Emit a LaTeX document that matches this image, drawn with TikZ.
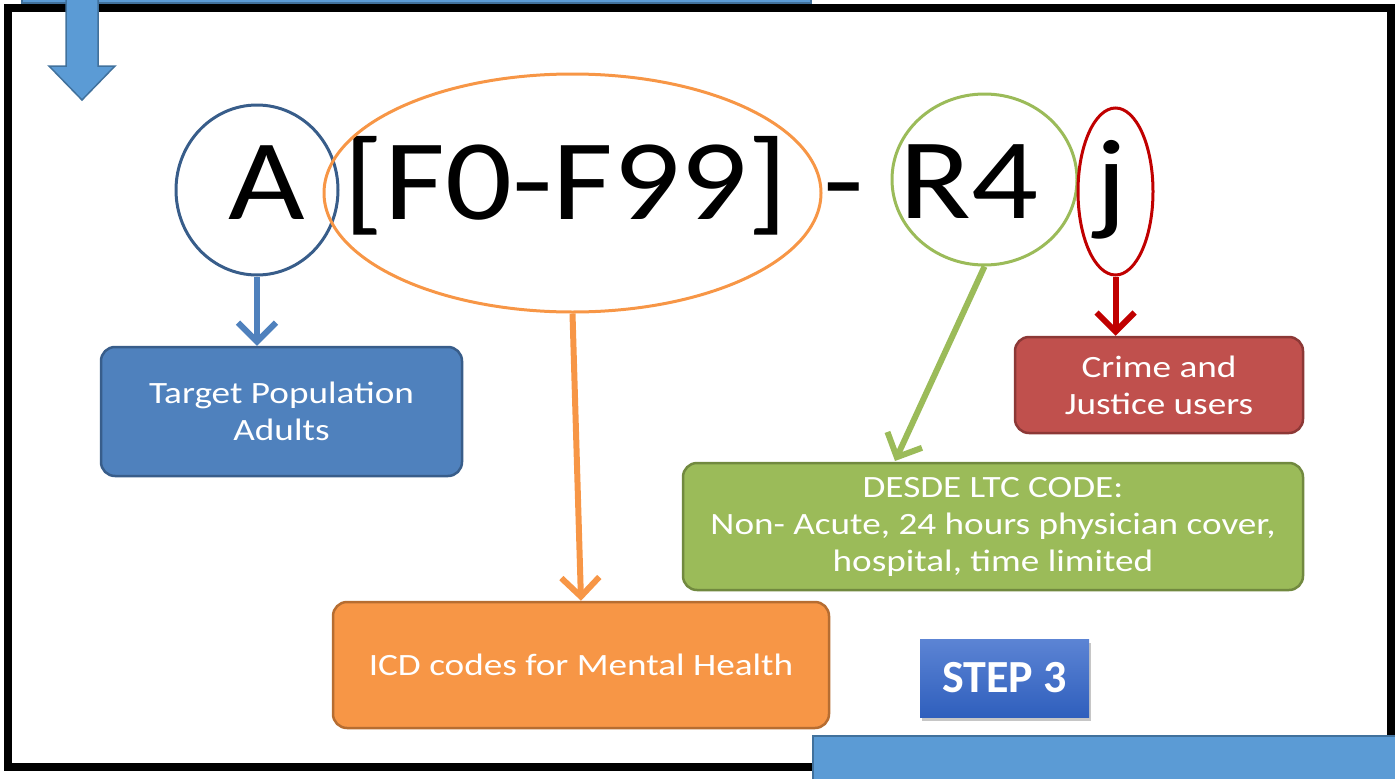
\documentclass[tikz,border=0pt]{standalone}
\usepackage{fontspec}
\setmainfont{Carlito}
\newfontfamily\slidefont[FakeStretch=1.15]{Carlito}
\newfontfamily\boxfont[FakeStretch=1.2]{Carlito}
\usetikzlibrary{shapes.geometric, arrows.meta, shadows}
\definecolor{slideblue}{HTML}{5B9BD5}
\definecolor{slideline}{HTML}{41719C}
\definecolor{popfill}{HTML}{4F81BD}
\definecolor{popline}{HTML}{385D8A}
\definecolor{icdfill}{HTML}{F79646}
\definecolor{icdline}{HTML}{B66D31}
\definecolor{ltcfill}{HTML}{9BBB59}
\definecolor{ltcline}{HTML}{71893F}
\definecolor{crjfill}{HTML}{C0504D}
\definecolor{crjline}{HTML}{8C3836}
\definecolor{crjred}{HTML}{C00000}
\definecolor{steptop}{HTML}{5C84D4}
\definecolor{stepbot}{HTML}{2F5FBD}
\tikzset{codebox/.style={rounded corners=14pt, draw, line width=2.5pt, text=white, align=center, font=\boxfont\fontsize{31}{37}\selectfont}}
\tikzset{ring/.style={ellipse, draw, line width=3pt, inner sep=0pt}}
\tikzset{bigchar/.style={anchor=base, inner sep=0pt, font=\slidefont\fontsize{115}{120}\selectfont}}
\tikzset{arr/.style={draw, line width=6pt, -{Straight Barb[length=19pt, width=38pt]}}}
\begin{document}
\begin{tikzpicture}[x=1pt, y=-1pt]
	\useasboundingbox (0,0) rectangle (1395,779);
	% slide frame and the bits of the neighbouring steps
	\draw[line width=8pt] (8,7.5) rectangle (1391,767);
	\draw[fill=slideblue, draw=slideline, line width=1.5pt] (22,-20) rectangle (811,3);
	\draw[fill=slideblue, draw=slideline, line width=1.5pt] (813,736) rectangle (1420,790);
	\draw[fill=slideblue, draw=slideline, line width=1.5pt]
		(66,-5) -- (66,66) -- (49,66) -- (82,100) -- (115,66) -- (98,66) -- (98,-5) -- cycle;
	%
	\node[bigchar] (lA) at (267,219) {A};
	\node[bigchar] (lF) at (566,219) {[F0-F99]};
	\node[bigchar] (lD) at (844,219) {-};
	\node[bigchar] (lR) at (969,218) {R4};
	\node[bigchar] (lj) at (1111,219) {j};
	%
	\node[ring, draw=popline, minimum width=162pt, minimum height=170pt] (ca) at (257,190) {};
	\node[ring, draw=icdfill, minimum width=497pt, minimum height=238pt] (cf) at (572.5,193) {};
	\node[ring, draw=ltcfill, minimum width=185pt, minimum height=171pt] (cr) at (984.5,179.5) {};
	\node[ring, draw=crjred, minimum width=75pt, minimum height=167pt] (rj) at (1115.5,191.5) {};
	%
	\node[codebox, fill=popfill, draw=popline, minimum width=361pt, minimum height=129pt] (tp) at (281.5,411.5) {Target Population\\Adults};
	\node[codebox, fill=icdfill, draw=icdline, minimum width=496pt, minimum height=126pt] (icd) at (581,665) {ICD codes for Mental Health};
	\node[codebox, fill=ltcfill, draw=ltcline, minimum width=620pt, minimum height=127pt] (ltc) at (993,526.5) {DESDE LTC CODE:\\Non- Acute, 24 hours physician cover,\\hospital, time limited};
	\node[codebox, fill=crjfill, draw=crjline, minimum width=288pt, minimum height=96pt] (crj) at (1159,385) {Crime and\\Justice users};
	\node[minimum width=169pt, minimum height=78pt, top color=steptop, bottom color=stepbot, text=white,
		drop shadow={shadow xshift=2pt, shadow yshift=-4pt, opacity=0.45},
		font=\bfseries\fontsize{46}{50}\selectfont] (st) at (1004.5,678) {STEP 3};
	%
	\coordinate (gtip) at (895,461);
	\draw[arr, popfill] (ca.south) -- (ca.south |- tp.north);
	\draw[arr, icdfill] (cf.south) -- (icd.north);
	\draw[arr, ltcfill] (cr.south) -- (gtip);
	\draw[arr, crjred] (rj.south) -- (rj.south |- crj.north);
\end{tikzpicture}
\end{document}
